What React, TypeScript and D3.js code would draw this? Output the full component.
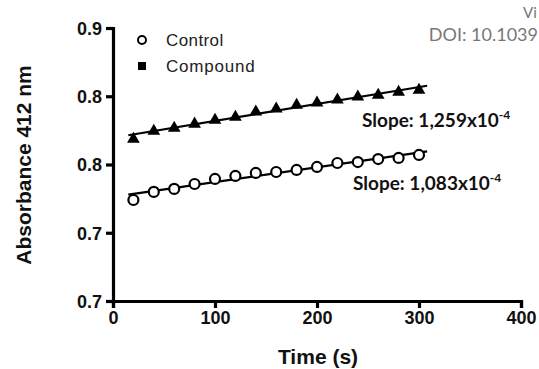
import { useEffect, useRef } from "react";
import * as d3 from "d3";

const times = [20, 40, 60, 80, 100, 120, 140, 160, 180, 200, 220, 240, 260, 280, 300];
const control = [0.774, 0.7799, 0.7821, 0.7857, 0.7894, 0.7916, 0.7938, 0.7945, 0.796, 0.7982, 0.8011, 0.8018, 0.804, 0.8048, 0.807];
const compound = [0.8187, 0.8245, 0.8267, 0.8297, 0.8326, 0.8348, 0.8385, 0.8407, 0.8436, 0.8451, 0.8473, 0.8495, 0.8509, 0.8531, 0.8546];
const yTicks = [0.7, 0.75, 0.8, 0.85, 0.9];
const yTickLabels = ["0.7", "0.7", "0.8", "0.8", "0.9"];
const xTicks = [0, 100, 200, 300, 400];
const fitRange = [15, 308];

function linfit(xs: number[], ys: number[]) {
    const mx = d3.mean(xs)!;
    const my = d3.mean(ys)!;
    let num = 0;
    let den = 0;
    xs.forEach((x, i) => {
        num += (x - mx) * (ys[i] - my);
        den += (x - mx) * (x - mx);
    });
    const b = num / den;
    return (x: number) => my + b * (x - mx);
}

export default function App() {
    const svgRef = useRef<SVGSVGElement>(null);

    useEffect(() => {
        if (!svgRef.current) return;
        document.body.style.margin = "0";
        const svg = d3.select(svgRef.current);
        svg.selectAll("*").remove();

        const x = d3.scaleLinear().domain([0, 400]).range([113, 521]);
        const y = d3.scaleLinear().domain([0.7, 0.9]).range([301, 28]);

        // axes
        const yAxis = svg
            .append("g")
            .attr("transform", "translate(113,0)")
            .call(
                d3
                    .axisLeft(y)
                    .tickValues(yTicks)
                    .tickSize(7)
                    .tickPadding(4)
                    .tickFormat((_, i) => yTickLabels[i])
            );
        const xAxis = svg
            .append("g")
            .attr("transform", "translate(0,301)")
            .call(d3.axisBottom(x).tickValues(xTicks).tickSize(7).tickPadding(3).tickFormat(d3.format("d")));

        [yAxis, xAxis].forEach((ax) => {
            ax.select(".domain").attr("stroke", "#000").attr("stroke-width", 3.2);
            ax.selectAll(".tick line").attr("stroke", "#000").attr("stroke-width", 3.2);
            ax.selectAll(".tick text")
                .attr("fill", "#111")
                .attr("font-family", "Liberation Sans, Arial, sans-serif")
                .attr("font-weight", "bold")
                .attr("font-size", 18);
        });
        yAxis.selectAll(".tick text").attr("dy", "0.36em");

        // axis titles
        svg.append("text")
            .attr("transform", "translate(31,165) rotate(-90)")
            .attr("text-anchor", "middle")
            .attr("font-family", "Liberation Sans, Arial, sans-serif")
            .attr("font-weight", "bold")
            .attr("font-size", 21)
            .attr("fill", "#111")
            .text("Absorbance 412 nm");

        svg.append("text")
            .attr("x", 318)
            .attr("y", 364)
            .attr("text-anchor", "middle")
            .attr("font-family", "Liberation Sans, Arial, sans-serif")
            .attr("font-weight", "bold")
            .attr("font-size", 21)
            .attr("fill", "#111")
            .text("Time (s)");

        // fit lines
        [control, compound].forEach((vals) => {
            const f = linfit(times, vals);
            svg.append("line")
                .attr("x1", x(fitRange[0]))
                .attr("y1", y(f(fitRange[0])))
                .attr("x2", x(fitRange[1]))
                .attr("y2", y(f(fitRange[1])))
                .attr("stroke", "#000")
                .attr("stroke-width", 2.2);
        });

        // control points
        svg.append("g")
            .selectAll("circle")
            .data(times)
            .join("circle")
            .attr("cx", (d) => x(d))
            .attr("cy", (_, i) => y(control[i]))
            .attr("r", 5)
            .attr("fill", "#fff")
            .attr("stroke", "#000")
            .attr("stroke-width", 2.2);

        // compound points
        const tri = d3.symbol().type(d3.symbolTriangle).size(70);
        svg.append("g")
            .selectAll("path")
            .data(times)
            .join("path")
            .attr("transform", (d, i) => `translate(${x(d)},${y(compound[i])})`)
            .attr("d", tri)
            .attr("fill", "#000");

        // legend
        const legend = svg.append("g").attr("font-family", "Liberation Sans, Arial, sans-serif").attr("font-size", 17);
        legend.append("circle").attr("cx", 142).attr("cy", 40).attr("r", 4).attr("fill", "#fff").attr("stroke", "#000").attr("stroke-width", 2);
        legend.append("rect").attr("x", 138).attr("y", 62).attr("width", 8).attr("height", 8).attr("fill", "#000");
        legend.append("text").attr("x", 166).attr("y", 46).attr("fill", "#222").attr("letter-spacing", 0.4).text("Control");
        legend.append("text").attr("x", 166).attr("y", 72).attr("fill", "#222").attr("letter-spacing", 0.8).text("Compound");

        // slope labels
        const slopes = [
            { text: "Slope: 1,259x10", sup: "-4", x: 362, y: 127 },
            { text: "Slope: 1,083x10", sup: "-4", x: 353, y: 190 },
        ];
        slopes.forEach((s) => {
            const t = svg
                .append("text")
                .attr("x", s.x)
                .attr("y", s.y)
                .attr("font-family", "Lato, Open Sans, sans-serif")
                .attr("font-weight", "bold")
                .attr("font-size", 19)
                .attr("fill", "#111");
            t.append("tspan").text(s.text);
            t.append("tspan").attr("dy", -8).attr("font-size", 12).text(s.sup);
        });

        // watermark
        svg.append("text")
            .attr("x", 523)
            .attr("y", 18)
            .attr("font-family", "Lato, sans-serif")
            .attr("font-size", 15)
            .attr("fill", "#777")
            .text("Vi");
        svg.append("text")
            .attr("x", 538)
            .attr("y", 41)
            .attr("text-anchor", "end")
            .attr("font-family", "Lato, sans-serif")
            .attr("font-size", 18)
            .attr("fill", "#777")
            .text("DOI: 10.1039");
    }, []);

    return <svg ref={svgRef} width={539} height={369} style={{ display: "block", background: "#fff" }} />;
}
